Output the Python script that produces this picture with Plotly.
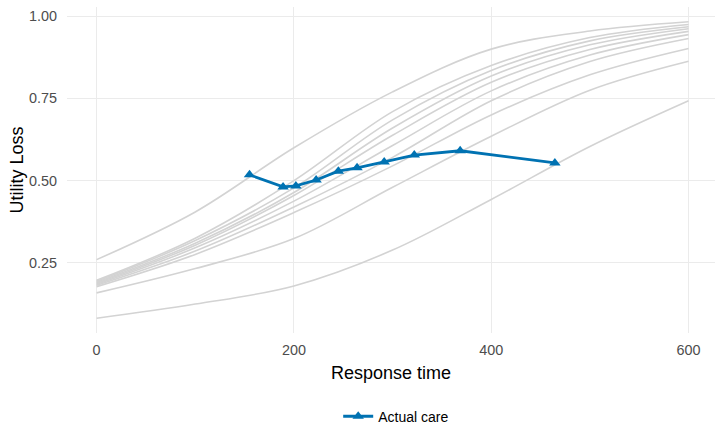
import plotly.graph_objects as go

# ---- data ----
x_grid = [0, 100, 200, 300, 400, 500, 600]

curve_A = [0.260, 0.405, 0.600, 0.770, 0.900, 0.955, 0.983]
curve_B = [0.197, 0.325, 0.500, 0.710, 0.850, 0.935, 0.975]
curve_C = [0.194, 0.318, 0.478, 0.685, 0.835, 0.925, 0.968]
curve_D = [0.191, 0.310, 0.464, 0.660, 0.818, 0.913, 0.962]
curve_E = [0.188, 0.304, 0.455, 0.638, 0.799, 0.899, 0.954]
curve_F = [0.185, 0.296, 0.438, 0.607, 0.773, 0.882, 0.944]
curve_G = [0.182, 0.286, 0.420, 0.571, 0.743, 0.862, 0.932]
curve_H = [0.178, 0.276, 0.403, 0.545, 0.700, 0.822, 0.902]
curve_I = [0.159, 0.233, 0.324, 0.480, 0.635, 0.775, 0.863]
curve_J = [0.082, 0.125, 0.180, 0.289, 0.443, 0.604, 0.743]

curves = [curve_A, curve_B, curve_C, curve_D, curve_E,
          curve_F, curve_G, curve_H, curve_I, curve_J]

actual_x = [155, 189, 202, 222.5, 245, 264, 291.5, 322, 368.5, 464.5]
actual_y = [0.518, 0.481, 0.484, 0.502, 0.529, 0.539, 0.557, 0.578, 0.591, 0.554]

x_ticks = [0, 200, 400, 600]
y_ticks = [0.25, 0.50, 0.75, 1.00]
y_tick_labels = ["0.25", "0.50", "0.75", "1.00"]

GRAY = "#d3d3d3"
BLUE = "#0072B2"
FONT = "Liberation Sans, Arial, sans-serif"

fig = go.Figure()
for c in curves:
    fig.add_trace(go.Scatter(
        x=x_grid, y=c, mode="lines",
        line=dict(color=GRAY, width=1.6, shape="spline", smoothing=1.0),
        showlegend=False, hoverinfo="skip"))

fig.add_trace(go.Scatter(
    x=actual_x, y=actual_y, mode="lines+markers", name="Actual care",
    line=dict(color=BLUE, width=2.8),
    marker=dict(symbol="triangle-up", size=10, color=BLUE)))

fig.update_layout(
    width=715, height=426,
    margin=dict(l=67, r=0, t=7, b=93, autoexpand=False),
    paper_bgcolor="white", plot_bgcolor="white",
    font=dict(family=FONT, color="black"),
    showlegend=True,
    legend=dict(orientation="h", xref="container", x=0.473, xanchor="left",
                yref="container", y=0.022, yanchor="middle",
                font=dict(size=14, color="black", family=FONT),
                bgcolor="rgba(0,0,0,0)"),
    xaxis=dict(range=[-30, 626.8], tickvals=x_ticks, ticktext=[str(v) for v in x_ticks],
               showgrid=True, gridcolor="#ebebeb", gridwidth=1.1,
               zeroline=False, showline=False, ticks="", automargin=False,
               ticklabelstandoff=7,
               tickfont=dict(size=14.4, color="#4d4d4d", family=FONT),
               title=dict(text="Response time", font=dict(size=18, color="black", family=FONT),
                          standoff=8)),
    yaxis=dict(range=[0.037, 1.028], tickvals=y_ticks, ticktext=y_tick_labels,
               showgrid=True, gridcolor="#ebebeb", gridwidth=1.1,
               zeroline=False, showline=False, ticks="", automargin=False,
               ticklabelstandoff=9,
               tickfont=dict(size=14.4, color="#4d4d4d", family=FONT),
               title=dict(text="Utility Loss", font=dict(size=18, color="black", family=FONT),
                          standoff=0)),
)

fig.write_html("out.html")
